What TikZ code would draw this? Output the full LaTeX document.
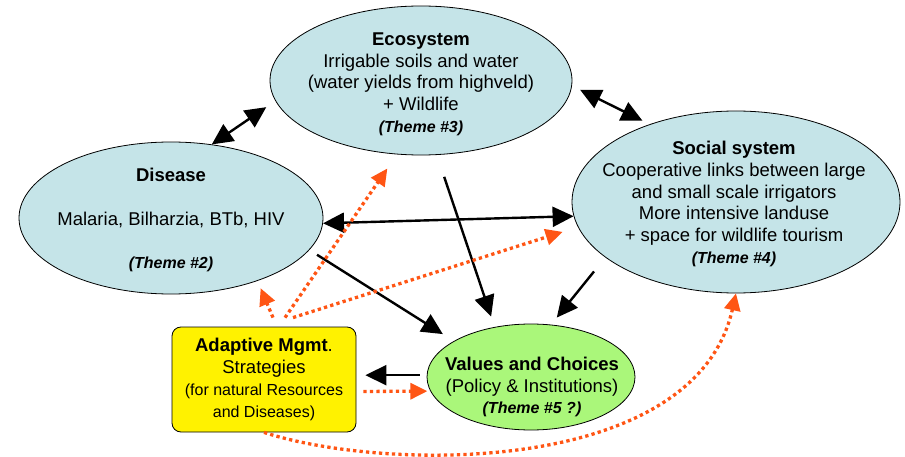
\documentclass[tikz,border=0pt]{standalone}
\usepackage{fontspec}
\setmainfont{Liberation Sans}
\usetikzlibrary{arrows.meta,shapes.geometric,calc}
\definecolor{bubblefill}{RGB}{197,228,232}
\definecolor{choicefill}{RGB}{170,247,122}
\definecolor{dotorange}{RGB}{255,85,20}
\newcommand\themetag[1]{{\fontsize{16}{21.7}\selectfont\bfseries\itshape (Theme #1)}}
\newcommand\notefont{\fontsize{16}{21}\selectfont}

\begin{document}
\begin{tikzpicture}[x=1pt, y=-1pt,
	bubble/.style={ellipse, draw=black, line width=0.8pt, fill=bubblefill, inner sep=0pt},
	txt/.style={align=center, font=\fontsize{18.5}{21.7}\selectfont},
	link/.style={line width=2.4pt, -{Triangle[length=21pt,width=20pt]}},
	twolink/.style={line width=2.4pt, {Triangle[length=21pt,width=20pt]}-{Triangle[length=21pt,width=20pt]}},
	dotlink/.style={line width=3.3pt, color=dotorange, dash pattern=on 3.3pt off 3.2pt, -{Triangle[length=17pt,width=16pt]}}]
			%%%%% START %%%%%
			\useasboundingbox (0,0) rectangle (905,457);
			
			\node[bubble, minimum width=302pt, minimum height=149pt] (eco) at (421,80.5) {};
			\node[bubble, minimum width=304pt, minimum height=152pt] (disease) at (171,218) {};
			\node[bubble, minimum width=328pt, minimum height=182pt] (social) at (736,202) {};
			\node[bubble, fill=choicefill, minimum width=208pt, minimum height=106pt] (values) at (531,377) {};
			\node[txt, draw=black, line width=0.8pt, fill=yellow, rounded corners=9pt, inner sep=0pt,
				minimum width=184pt, minimum height=105pt] (adaptive) at (264,379.5)
				{\textbf{Adaptive Mgmt}.\\Strategies\\{\notefont (for natural Resources}\\{\notefont and Diseases)}};
			
			\node[txt] (eco-text) at (421,84) {\textbf{Ecosystem}\\Irrigable soils and water\\(water yields from highveld)\\+ Wildlife\\\themetag{\#3}};
			\node[txt] (disease-text) at (171,220) {\textbf{Disease}\\[22pt]Malaria, Bilharzia, BTb, HIV\\[22pt]\themetag{\#2}};
			\node[txt] (social-text) at (734,204) {\textbf{Social system}\\Cooperative links between large\\and small scale irrigators\\More intensive landuse\\+ space for wildlife tourism\\\themetag{\#4}};
			\node[txt] (values-text) at (532,387) {\textbf{Values and Choices}\\(Policy \& Institutions)\\\themetag{\#5 ?}};
			
			% black links
			\draw[twolink, shorten >=11pt] (disease.61) -- (eco.188);
			\draw[twolink, shorten <=9pt, shorten >=8pt] (eco.-2) -- (social.138);
			\draw[twolink] (disease.-2) -- (social.185);
			\draw[link, shorten <=23pt, shorten >=11pt] (eco.-78) -- (values.126);
			\draw[link, shorten <=18pt, shorten >=9pt] (social.203) -- (values.69);
			\draw[link, shorten <=9pt, shorten >=13pt] (disease.-13) -- (values.155);
			\draw[link, shorten <=7pt, shorten >=9pt] (values.179) -- (values.179 -| adaptive.east);
			
			% orange dotted links
			\draw[dotlink, shorten <=7pt, shorten >=3pt] ([yshift=-12pt]adaptive.east) -- (values.188);
			\draw[dotlink, shorten >=8pt] ([xshift=9pt,yshift=9pt]adaptive.north) -- (disease.-36);
			\draw[dotlink, shorten >=17pt] ([xshift=21pt,yshift=9pt]adaptive.north) -- (eco.252);
			\draw[dotlink, shorten >=16pt] ([xshift=29pt,yshift=9pt]adaptive.north) -- (social.189);
			\draw[dotlink] (adaptive.south) .. controls +(123,40) and +(-41,182) .. (social.south);
			
			%%%%% END %%%%%
\end{tikzpicture}
\end{document}
